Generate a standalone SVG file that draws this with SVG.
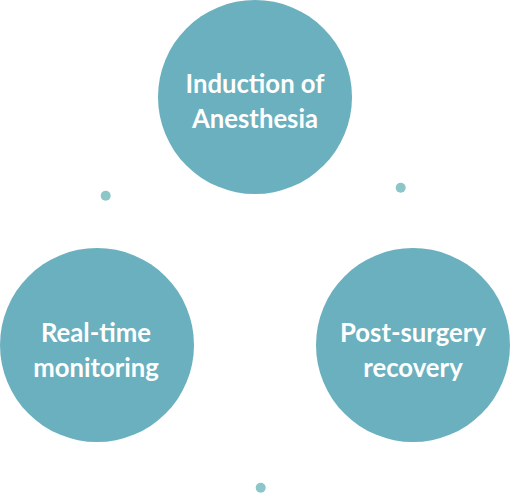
<svg xmlns="http://www.w3.org/2000/svg" width="510" height="503" viewBox="0 0 510 503">
<style>
.c{fill:#6AB0BE}
.d{fill:#8CC6C9}
.t{fill:#FFFFFF;font-family:Lato,"Open Sans","Liberation Sans",sans-serif;font-weight:700;font-size:25.7px;text-anchor:middle}
</style>
<rect width="510" height="503" fill="#FFFFFF"/>
<g id="connectors">
<circle class="d" cx="105.7" cy="195.7" r="5"/>
<circle class="d" cx="400.7" cy="187.7" r="5"/>
<circle class="d" cx="260.7" cy="487.7" r="5"/>
</g>
<g id="induction">
<circle class="c" cx="255" cy="97" r="97"/>
<text class="t" x="255" y="93">Induction of</text>
<text class="t" x="255" y="128">Anesthesia</text>
</g>
<g id="monitoring">
<circle class="c" cx="97" cy="345" r="97"/>
<text class="t" x="96" y="342">Real-time</text>
<text class="t" x="96" y="377">monitoring</text>
</g>
<g id="recovery">
<circle class="c" cx="413" cy="345" r="97"/>
<text class="t" x="413" y="342">Post-surgery</text>
<text class="t" x="413" y="377">recovery</text>
</g>
</svg>
